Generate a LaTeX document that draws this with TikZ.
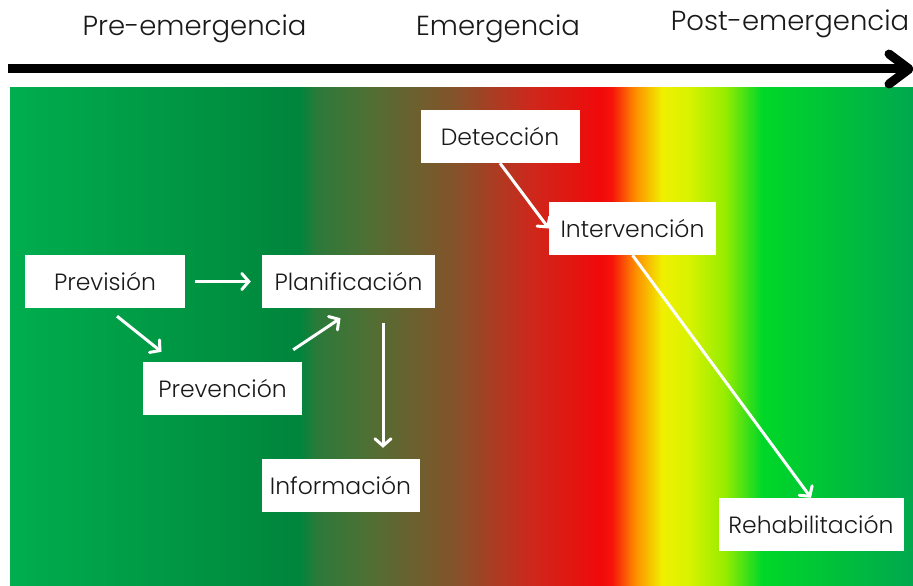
\documentclass[tikz,border=0pt]{standalone}
\usepackage{fontspec}
\setmainfont{Poppins}[UprightFont=* Light]
\usetikzlibrary{arrows.meta,calc}
\definecolor{txt}{RGB}{25,25,25}
\definecolor{sA}{RGB}{0,174,78}
\definecolor{sB}{RGB}{0,133,60}
\definecolor{sC}{RGB}{42,122,58}
\definecolor{sD}{RGB}{78,112,52}
\definecolor{sE}{RGB}{132,83,42}
\definecolor{sF}{RGB}{205,40,28}
\definecolor{sG}{RGB}{240,10,10}
\definecolor{sH}{RGB}{245,20,10}
\definecolor{sI}{RGB}{255,140,0}
\definecolor{sJ}{RGB}{240,240,0}
\definecolor{sK}{RGB}{215,242,0}
\definecolor{sL}{RGB}{150,236,0}
\definecolor{sM}{RGB}{0,215,40}
\definecolor{sN}{RGB}{0,168,78}
\pgfdeclarehorizontalshading{band}{100bp}{color(0bp)=(sA); color(25bp)=(sA); color(41.06bp)=(sB); color(41.94bp)=(sC); color(44.7bp)=(sD); color(49.64bp)=(sE); color(53.79bp)=(sF); color(57.67bp)=(sG); color(58.33bp)=(sH); color(59.6bp)=(sI); color(61.1bp)=(sJ); color(62.65bp)=(sK); color(64.59bp)=(sL); color(66.64bp)=(sM); color(75bp)=(sN); color(100bp)=(sN)}
\begin{document}
\begin{tikzpicture}[x=1pt,y=-1pt,
  box/.style={fill=white, minimum height=53pt, inner sep=0pt, text=txt, font=\fontsize{23.5}{26}\selectfont},
  head/.style={anchor=base, text=txt, font=\fontsize{27.5}{32}\selectfont},
  conn/.style={draw=white, line width=3pt, -{Straight Barb[length=7pt,width=16pt,line cap=round]}}]
\useasboundingbox (0,0) rectangle (913,586);
\fill[white] (0,0) rectangle (913,586);
\shade[shading=band] (10,87) rectangle (913,586);
% timeline
\draw[line width=9pt] (8,69) -- (906,69);
\coordinate (tipA) at (889,54);
\coordinate (tip) at (909,69);
\coordinate (tipB) at (889,84);
\draw[line width=9pt, line cap=round, line join=round] (tipA) -- (tip) -- (tipB);
\node[head] (h1) at (194.5,36) {Pre-emergencia};
\node[head] (h2) at (498,36) {Emergencia};
\node[head] (h3) at (790,31) {Post-emergencia};
% boxes
\node[box, minimum width=160pt] (prv) at (105,281.5) {Previsión};
\node[box, minimum width=173pt] (pla) at (348.5,281.5) {Planificación};
\node[box, minimum width=159pt] (pvc) at (222.5,388.5) {Prevención};
\node[box, minimum width=158pt] (inf) at (340.5,485.5) {Información};
\node[box, minimum width=159pt] (det) at (500,136.5) {Detección};
\node[box, minimum width=167pt] (int) at (632.5,228.5) {Intervención};
\node[box, minimum width=185pt] (reh) at (811,524.5) {Rehabilitación};
% connectors
\draw[conn] ($(prv.east)+(10,0)$) -- ($(pla.west)+(-11,0)$);
\draw[conn] ($(prv.south)+(12,8)$) -- ($(pvc.north)+(-61,-10)$);
\draw[conn] ($(pvc.north east)+(-9,-12)$) -- ($(pla.south)+(-8,10)$);
\draw[conn] ($(pla.south)+(34.5,15)$) -- ($(inf.north)+(42.5,-11)$);
\draw[conn] (det.south) -- (int.west);
\draw[conn] (int.south) -- (reh.north);
\end{tikzpicture}
\end{document}
